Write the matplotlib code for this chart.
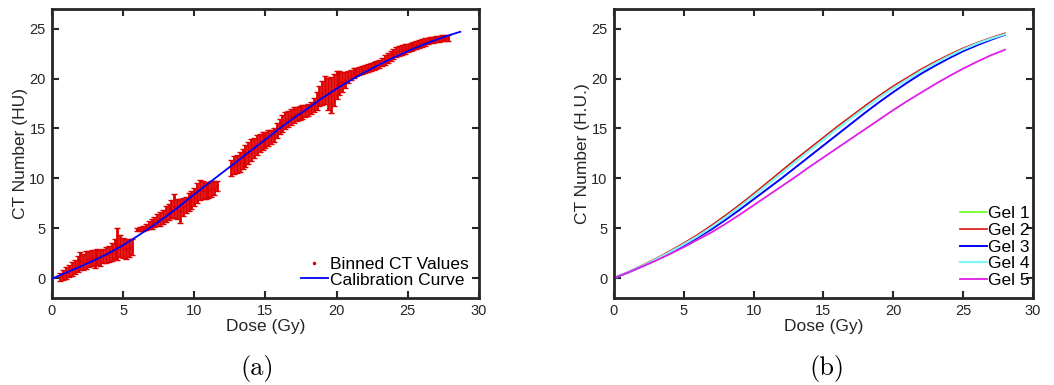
import numpy as np
import matplotlib.pyplot as plt
from matplotlib.lines import Line2D

plt.rcParams['font.family'] = ['Liberation Sans', 'DejaVu Sans']

# ---- panel (a): binned CT values (dose, CT number, error) ----
dose_a = [0.6, 0.8, 1.0, 1.2, 1.4, 1.6, 1.8, 2.0, 2.2, 2.4, 2.6, 2.8, 3.0,
          3.2, 3.4, 3.6, 3.8, 4.0, 4.2, 4.4, 4.6, 4.8, 5.0, 5.2, 5.4, 5.6,
          6.0, 6.2, 6.4, 6.6, 6.8, 7.0, 7.2, 7.4, 7.6, 7.8, 8.0, 8.2, 8.4,
          8.6, 8.8, 9.0, 9.2, 9.4, 9.6, 9.8, 10.0, 10.2, 10.4, 10.6, 10.8,
          11.0, 11.2, 11.4, 11.6,
          12.6, 12.8, 13.0, 13.2, 13.4, 13.6, 13.8, 14.0, 14.2, 14.4, 14.6,
          14.8, 15.0, 15.2, 15.4, 15.6, 15.8, 16.0, 16.2, 16.4, 16.6, 16.8,
          17.0, 17.2, 17.4, 17.6, 17.8, 18.0, 18.2, 18.4, 18.6, 18.8, 19.0,
          19.2, 19.4, 19.6, 19.8, 20.0, 20.2, 20.4, 20.6, 20.8, 21.0, 21.2,
          21.4, 21.6, 21.8, 22.0, 22.2, 22.4, 22.6, 22.8, 23.0, 23.2, 23.4,
          23.6, 23.8, 24.0, 24.2, 24.4, 24.6, 24.8, 25.0, 25.2, 25.4, 25.6,
          25.8, 26.0, 26.2, 26.4, 26.6, 26.8, 27.0, 27.2, 27.4, 27.6, 27.8]
ct_a = [0.15, 0.35, 0.5, 0.75, 0.9, 1.1, 1.4, 1.7, 1.6, 1.85, 1.9, 2.0, 1.95,
        2.1, 2.05, 2.2, 2.3, 2.4, 2.6, 2.9, 3.4, 3.2, 3.0, 2.9, 3.0, 3.1,
        4.85, 4.9, 5.0, 5.1, 5.3, 5.4, 5.6, 5.8, 5.9, 6.1, 6.4, 6.6, 6.9,
        7.2, 6.9, 6.7, 7.1, 7.3, 7.6, 7.8, 8.1, 8.5, 8.8, 8.8, 8.7,
        8.8, 8.9, 9.0, 9.2,
        11.0, 11.3, 11.4, 11.6, 11.9, 12.2, 12.5, 12.8, 13.0, 13.3, 13.5,
        13.7, 13.8, 14.0, 14.1, 14.3, 14.8, 15.2, 15.5, 15.8, 16.0, 16.2,
        16.4, 16.5, 16.6, 16.7, 16.8, 16.9, 17.1, 17.4, 17.8, 18.3, 18.6,
        18.9, 18.5, 18.4, 18.9, 19.4, 19.6, 19.7, 19.9, 20.2, 20.4, 20.6,
        20.7, 20.8, 20.9, 21.0, 21.1, 21.2, 21.3, 21.4, 21.5, 21.7, 21.9,
        22.1, 22.3, 22.5, 22.7, 22.8, 22.9, 23.0, 23.1, 23.2, 23.3, 23.4,
        23.5, 23.6, 23.7, 23.8, 23.9, 23.9, 24.0, 24.0, 24.1, 24.1, 24.1]
err_a = [0.4, 0.5, 0.6, 0.6, 0.7, 0.7, 0.8, 0.9, 0.8, 0.9, 0.8, 0.8, 0.9,
         0.8, 0.8, 0.7, 0.8, 0.8, 0.9, 1.0, 1.6, 1.1, 1.0, 1.0, 0.9, 0.8,
         0.15, 0.2, 0.25, 0.3, 0.4, 0.5, 0.5, 0.6, 0.7, 0.7, 0.8, 0.8, 0.9,
         1.2, 1.0, 1.2, 0.9, 0.8, 0.9, 0.9, 0.9, 1.0, 1.0, 0.9, 0.8,
         0.8, 0.8, 0.7, 0.5,
         0.8, 0.9, 0.9, 1.0, 1.0, 1.1, 1.1, 1.1, 1.0, 1.0, 0.9,
         0.9, 0.8, 0.8, 0.7, 0.7, 0.8, 0.8, 0.9, 0.9, 0.8, 0.8,
         0.8, 0.7, 0.7, 0.7, 0.6, 0.6, 0.6, 0.7, 0.9, 1.0, 1.2,
         1.4, 1.6, 1.8, 1.6, 1.4, 1.2, 1.0, 0.8, 0.6, 0.5, 0.5,
         0.4, 0.4, 0.4, 0.4, 0.4, 0.4, 0.4, 0.4, 0.4, 0.4, 0.5,
         0.5, 0.5, 0.5, 0.5, 0.5, 0.5, 0.5, 0.4, 0.4, 0.4, 0.4,
         0.4, 0.4, 0.4, 0.3, 0.3, 0.3, 0.3, 0.3, 0.3, 0.3, 0.3]

# calibration curve
dose_cal = [0, 1, 2, 3, 4, 5, 6, 7, 8, 9, 10, 11, 12, 13, 14, 15, 16, 17,
            18, 19, 20, 21, 22, 23, 24, 25, 26, 27, 28, 28.7]
ct_cal = [-0.05, 0.55, 1.15, 1.8, 2.5, 3.3, 4.2, 5.15, 6.15, 7.25, 8.4, 9.5,
          10.6, 11.7, 12.8, 13.9, 15.0, 16.05, 17.05, 18.05, 19.0, 19.85,
          20.65, 21.4, 22.1, 22.75, 23.35, 23.9, 24.4, 24.7]

# ---- panel (b): calibration curves per gel ----
dose_b = [0, 1, 2, 3, 4, 5, 6, 7, 8, 9, 10, 11, 12, 13, 14, 15, 16, 17, 18,
          19, 20, 21, 22, 23, 24, 25, 26, 27, 28]
gel1 = [0, 0.58, 1.22, 1.92, 2.67, 3.46, 4.3, 5.25, 6.25, 7.3, 8.4, 9.55,
        10.7, 11.85, 12.95, 14.05, 15.15, 16.2, 17.25, 18.25, 19.2, 20.05,
        20.9, 21.65, 22.35, 23.0, 23.55, 24.05, 24.5]
gel2 = [0, 0.6, 1.25, 1.95, 2.7, 3.5, 4.35, 5.3, 6.3, 7.35, 8.45, 9.6, 10.75,
        11.9, 13.0, 14.1, 15.2, 16.25, 17.3, 18.3, 19.25, 20.1, 20.95, 21.7,
        22.4, 23.05, 23.6, 24.1, 24.55]
gel3 = [0, 0.55, 1.15, 1.8, 2.5, 3.25, 4.05, 4.9, 5.85, 6.85, 7.9, 8.95, 10.0,
        11.1, 12.2, 13.3, 14.4, 15.5, 16.6, 17.65, 18.65, 19.6, 20.5, 21.3,
        22.05, 22.75, 23.35, 23.9, 24.4]
gel4 = [0, 0.58, 1.2, 1.88, 2.6, 3.38, 4.2, 5.12, 6.1, 7.15, 8.25, 9.38,
        10.52, 11.66, 12.78, 13.88, 14.98, 16.04, 17.08, 18.1, 19.05, 19.92,
        20.78, 21.55, 22.27, 22.94, 23.52, 24.02, 24.45]
gel5 = [0, 0.55, 1.15, 1.75, 2.4, 3.1, 3.85, 4.6, 5.45, 6.35, 7.3, 8.25, 9.2,
        10.15, 11.15, 12.1, 13.05, 14.0, 14.95, 15.9, 16.85, 17.75, 18.6,
        19.45, 20.25, 21.0, 21.7, 22.35, 22.9]
gel_names = ['Gel 1', 'Gel 2', 'Gel 3', 'Gel 4', 'Gel 5']
gel_colors = ['#66ff1a', '#e01010', '#0000ff', '#7ff7f7', '#e11ee8']

ticks = [0, 5, 10, 15, 20, 25, 30]
yticks = [0, 5, 10, 15, 20, 25]
axc = '#262626'
red = '#dd0000'

fig = plt.figure(figsize=(10.54, 3.85), dpi=100)
ax1 = fig.add_axes([0.0493, 0.226, 0.405, 0.751])
ax2 = fig.add_axes([0.5825, 0.226, 0.3975, 0.751])

ax1.errorbar(dose_a, ct_a, yerr=err_a, fmt='.', color=red, ecolor=red,
             elinewidth=2.0, capsize=2.5, capthick=1.0, markersize=2,
             zorder=2)
ax1.plot(dose_cal, ct_cal, color='#0000ff', lw=1.3, zorder=3)
handles = [Line2D([], [], ls='none', marker='.', markersize=3, color=red),
           Line2D([], [], color='#0000ff', lw=1.3)]
ax1.legend(handles, ['Binned CT Values', 'Calibration Curve'],
           loc='lower right', frameon=False, fontsize=12.5, handlelength=1.55,
           handletextpad=0.1, borderaxespad=0.2, labelspacing=0.0)
ax1.set_ylabel('CT Number (HU)', fontsize=12.5, color=axc)
ax1.yaxis.set_label_coords(-0.056, 0.5)

gels = [gel1, gel2, gel3, gel4, gel5]
widths = [1.2, 1.2, 1.4, 1.6, 1.3]
for name, vals, c, w in zip(gel_names, gels, gel_colors, widths):
    ax2.plot(dose_b, vals, color=c, lw=w, label=name)
ax2.legend(loc='lower right', bbox_to_anchor=(0.997, 0.028), frameon=False,
           fontsize=12.5, handlelength=1.55, handletextpad=0.1,
           borderaxespad=0.0, borderpad=0.1, labelspacing=0.09)
ax2.set_ylabel('CT Number (H.U.)', fontsize=12.5, color=axc)
ax2.yaxis.set_label_coords(-0.057, 0.5)

for ax in (ax1, ax2):
    ax.set_xlim(0, 30)
    ax.set_ylim(-2, 27)
    ax.set_xticks(ticks)
    ax.set_yticks(yticks)
    ax.set_xlabel('Dose (Gy)', fontsize=12.5, color=axc, va='center')
    ax.xaxis.set_label_coords(0.5, -0.10)
    ax.tick_params(direction='in', length=5, width=1.5, top=True, right=True,
                   labelsize=10.5, colors=axc, pad=4.5)
    for s in ax.spines.values():
        s.set_linewidth(2)
        s.set_color(axc)

fig.text(0.2438, 0.042, '(a)', family='cmr10', fontsize=19, ha='center',
         va='center')
fig.text(0.785, 0.042, '(b)', family='cmr10', fontsize=19, ha='center',
         va='center')

fig.savefig('out.png', dpi=100)
